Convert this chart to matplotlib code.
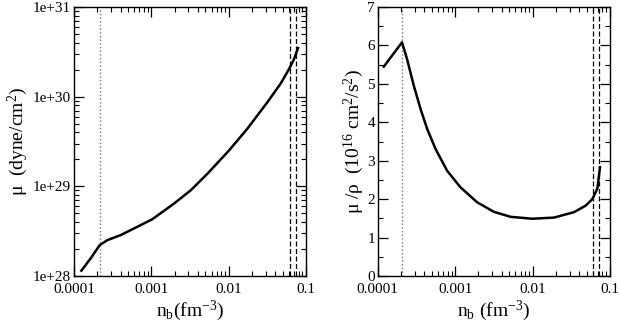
import matplotlib
matplotlib.use("Agg")
import matplotlib.pyplot as plt
from matplotlib.ticker import LogLocator, FixedLocator, MultipleLocator, NullFormatter, FixedFormatter

plt.rcParams['font.family'] = ['Liberation Serif', 'DejaVu Serif']
plt.rcParams['mathtext.fontset'] = 'custom'
plt.rcParams['mathtext.rm'] = 'Liberation Serif'
plt.rcParams['mathtext.it'] = 'Liberation Serif:italic'

# Left panel: shear modulus mu vs n_b
nb_mu = [1.245e-4, 1.64e-4, 2.15e-4, 2.70e-4, 4.01e-4, 5.97e-4, 1.03e-3, 1.96e-3,
         3.23e-3, 5.30e-3, 1.01e-2, 1.74e-2, 3.16e-2, 4.70e-2, 6.03e-2, 7.0e-2, 7.88e-2]
mu = [1.146e28, 1.57e28, 2.21e28, 2.51e28, 2.86e28, 3.39e28, 4.30e28, 6.41e28,
      9.03e28, 1.38e29, 2.51e29, 4.38e29, 8.65e29, 1.40e30, 2.03e30, 2.62e30, 3.48e30]

# Right panel: mu/rho vs n_b
nb_ratio = [1.20e-4, 2.06e-4, 2.39e-4, 2.92e-4, 3.57e-4, 4.35e-4, 5.57e-4, 7.88e-4,
            1.17e-3, 1.92e-3, 3.16e-3, 5.20e-3, 9.91e-3, 1.89e-2, 3.42e-2, 4.84e-2,
            5.91e-2, 6.86e-2, 7.43e-2]
ratio = [5.45, 6.08, 5.65, 4.96, 4.35, 3.83, 3.31, 2.74,
         2.31, 1.92, 1.67, 1.54, 1.49, 1.52, 1.66, 1.83,
         2.00, 2.27, 2.83]

dotted_left = 2.15e-4
dashed_left = [0.063, 0.075]
dotted_right = 2.06e-4
dashed_right = [0.060, 0.072]

xticks = [1e-4, 1e-3, 1e-2, 1e-1]
xticklabels = ["0.0001", "0.001", "0.01", "0.1"]
yticks_left = [1e28, 1e29, 1e30, 1e31]
yticklabels_left = ["1e+28", "1e+29", "1e+30", "1e+31"]
yticks_right = [0, 1, 2, 3, 4, 5, 6, 7]

fig = plt.figure(figsize=(6.2, 3.27), dpi=100)
axL = fig.add_axes([74/620, 1-276/327, (306-74)/620, (276-7)/327])
axR = fig.add_axes([377.7/620, 1-276/327, (610-377.7)/620, (276-7)/327])

for ax, dx, dlist in ((axL, dotted_left, dashed_left), (axR, dotted_right, dashed_right)):
    ax.set_xscale('log')
    ax.set_xlim(1e-4, 1e-1)
    ax.xaxis.set_major_locator(FixedLocator(xticks))
    ax.xaxis.set_major_formatter(FixedFormatter(xticklabels))
    ax.xaxis.set_minor_locator(LogLocator(base=10, subs=range(2, 10)))
    ax.xaxis.set_minor_formatter(NullFormatter())
    ax.tick_params(which='both', direction='in', top=True, right=True, labelsize=11)
    ax.tick_params(axis='x', pad=5)
    ax.tick_params(axis='y', pad=2)
    ax.tick_params(which='major', length=7, width=0.9)
    ax.tick_params(which='minor', length=3.5, width=0.8)
    for s in ax.spines.values():
        s.set_linewidth(1.0)
    ax.axvline(dx, color='#777777', linestyle=':', linewidth=1.0)
    for xd in dlist:
        ax.axvline(xd, color='black', linestyle=(0, (4, 2)), linewidth=0.9)

axL.plot(nb_mu, mu, color='black', linewidth=1.8, solid_joinstyle='round')
axL.set_yscale('log')
axL.set_ylim(1e28, 1e31)
axL.yaxis.set_major_locator(FixedLocator(yticks_left))
axL.yaxis.set_major_formatter(FixedFormatter(yticklabels_left))
axL.yaxis.set_minor_locator(LogLocator(base=10, subs=range(2, 10)))
axL.yaxis.set_minor_formatter(NullFormatter())
axL.set_ylabel("μ  (dyne/cm$^2$)", fontsize=14, labelpad=2)
axL.set_xlabel("n$_\\mathrm{b}$(fm$^{-3}$)", fontsize=14, labelpad=2)

axR.plot(nb_ratio, ratio, color='black', linewidth=1.8, solid_joinstyle='round')
axR.set_ylim(0, 7)
axR.yaxis.set_major_locator(FixedLocator(yticks_right))
axR.yaxis.set_minor_locator(MultipleLocator(0.5))
axR.set_ylabel("μ /ρ  (10$^{16}$ cm$^2$/s$^2$)", fontsize=14, labelpad=1)
axR.set_xlabel("n$_\\mathrm{b}$ (fm$^{-3}$)", fontsize=14, labelpad=2)

fig.savefig("out.png", dpi=100)
